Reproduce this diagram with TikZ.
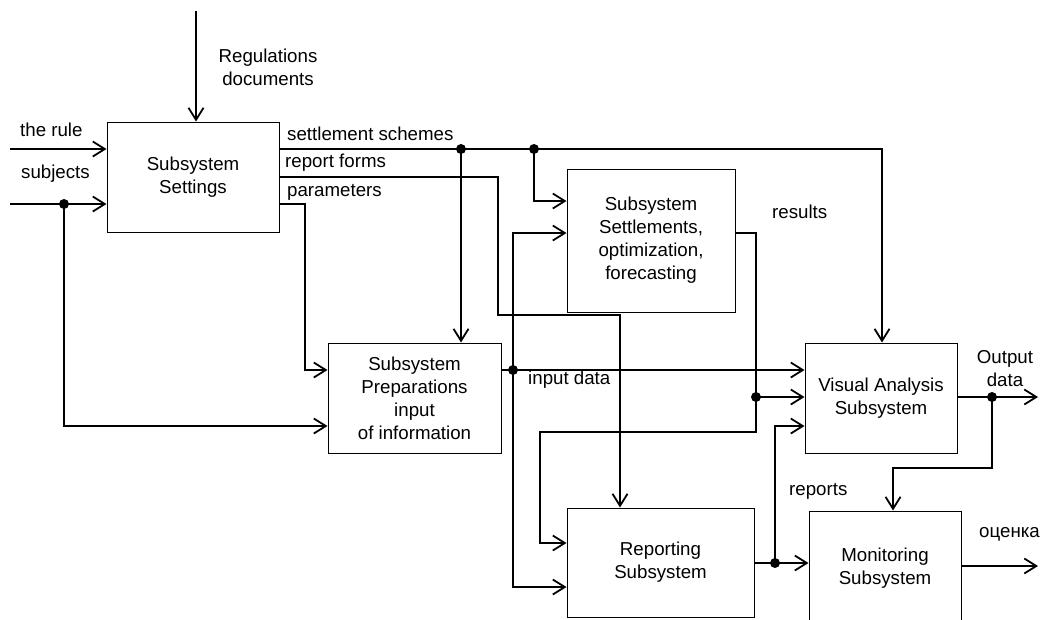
\documentclass[tikz,border=0pt]{standalone}
\usepackage{fontspec}
\setmainfont{Liberation Sans}
\usetikzlibrary{arrows.meta}
\begin{document}
\begin{tikzpicture}[x=1pt,y=-1pt,
  font=\fontsize{18.7}{23}\selectfont,
  box/.style={draw, line width=1pt, align=center, inner sep=0pt},
  conn/.style={line width=1.8pt, line join=miter},
  arr/.style={conn, -{Straight Barb[length=12pt,width=15pt]}},
  lbl/.style={inner sep=0pt, anchor=base west}
]
\useasboundingbox (0,0) rectangle (1040,619);

% boxes
\node[box, minimum width=172pt, minimum height=110pt] (set) at (193,177) {Subsystem\\Settings};
\node[box, minimum width=173pt, minimum height=110pt] (prep) at (414.5,398) {Subsystem\\Preparations\\input\\of information};
\node[box, minimum width=168pt, minimum height=143pt] (sett) at (651,240.5) {Subsystem\\Settlements,\\optimization,\\forecasting};
\node[box, minimum width=152pt, minimum height=110pt] (vis) at (881,398) {Visual Analysis\\Subsystem};
\node[box, minimum width=187pt, minimum height=109pt] (rep) at (660.5,562.5) {Reporting\\Subsystem};
\node[box, minimum width=152pt, minimum height=114pt] (mon) at (885,568) {Monitoring\\Subsystem};

% levels and columns
\coordinate (L149) at (0,149);
\coordinate (L177) at (0,177);
\coordinate (L201) at (0,201);
\coordinate (L204) at (0,204);
\coordinate (L233) at (0,233);
\coordinate (L370) at (0,370);
\coordinate (L397) at (0,397);
\coordinate (L426) at (0,426);
\coordinate (L543) at (0,543);
\coordinate (L563) at (0,563);
\coordinate (L566) at (0,566);
\coordinate (L587) at (0,587);
\coordinate (X620) at (620,0);
\coordinate (X882) at (882,0);
\coordinate (X893) at (893,0);

% junctions and free ends
\coordinate (regtop) at (196,11);
\coordinate (rulein) at (10,149);
\coordinate (subjin) at (10,204);
\coordinate (j1) at (64,204);
\coordinate (j2) at (461,149);
\coordinate (j3) at (534,149);
\coordinate (j4) at (513,370);
\coordinate (j5) at (756,397);
\coordinate (j6) at (775,563);
\coordinate (j7) at (992,397);
\coordinate (outend) at (1038,397);
\coordinate (ocend) at (1038,566);

% connectors
\draw[arr] (regtop) -- (regtop |- set.north);
\draw[arr] (rulein) -- (rulein -| set.west);
\draw[arr] (subjin) -- (subjin -| set.west);
\draw[arr] (j1) |- (prep.west |- L426);
\draw[arr] (set.east |- L204) -- (305,204) -- (305,370) -- (prep.west |- L370);
\draw[arr] (set.east |- L149) -- (882,149) -- (X882 |- vis.north);
\draw[arr] (j2) -- (j2 |- prep.north);
\draw[arr] (j3) |- (sett.west |- L201);
\draw[arr] (set.east |- L177) -- (498,177) -- (498,315) -- (620,315) -- (X620 |- rep.north);
\draw[arr] (prep.east |- L370) -- (vis.west |- L370);
\draw[arr] (j4) |- (sett.west |- L233);
\draw[arr] (j4) |- (rep.west |- L587);
\draw[arr] (sett.east |- L233) -- (756,233) -- (756,432) -- (540,432) -- (540,543) -- (rep.west |- L543);
\draw[arr] (j5) -- (vis.west |- L397);
\draw[arr] (rep.east |- L563) -- (mon.west |- L563);
\draw[arr] (j6) |- (vis.west |- L426);
\draw[arr] (vis.east |- L397) -- (outend);
\draw[arr] (j7) -- (992,468) -- (893,468) -- (X893 |- mon.north);
\draw[arr] (mon.east |- L566) -- (ocend);

\foreach \p in {j1,j2,j3,j4,j5,j6,j7} \fill (\p) circle (5pt);

% labels
\node[inner sep=0pt, align=center] (lreg) at (268,67) {Regulations\\documents};
\node[lbl] (lrule) at (20,136) {the rule};
\node[lbl] (lsubj) at (21,178) {subjects};
\node[lbl] (lss) at (287,140) {settlement schemes};
\node[lbl] (lrf) at (285,167) {report forms};
\node[lbl] (lpar) at (287,196) {parameters};
\node[lbl] (lres) at (772,218) {results};
\node[lbl] (linp) at (528,384) {input data};
\node[inner sep=0pt, align=center] (lout) at (1005,369) {Output\\data};
\node[lbl] (lrep) at (789,495) {reports};
\node[lbl] (locn) at (979,537) {оценка};
\end{tikzpicture}
\end{document}
